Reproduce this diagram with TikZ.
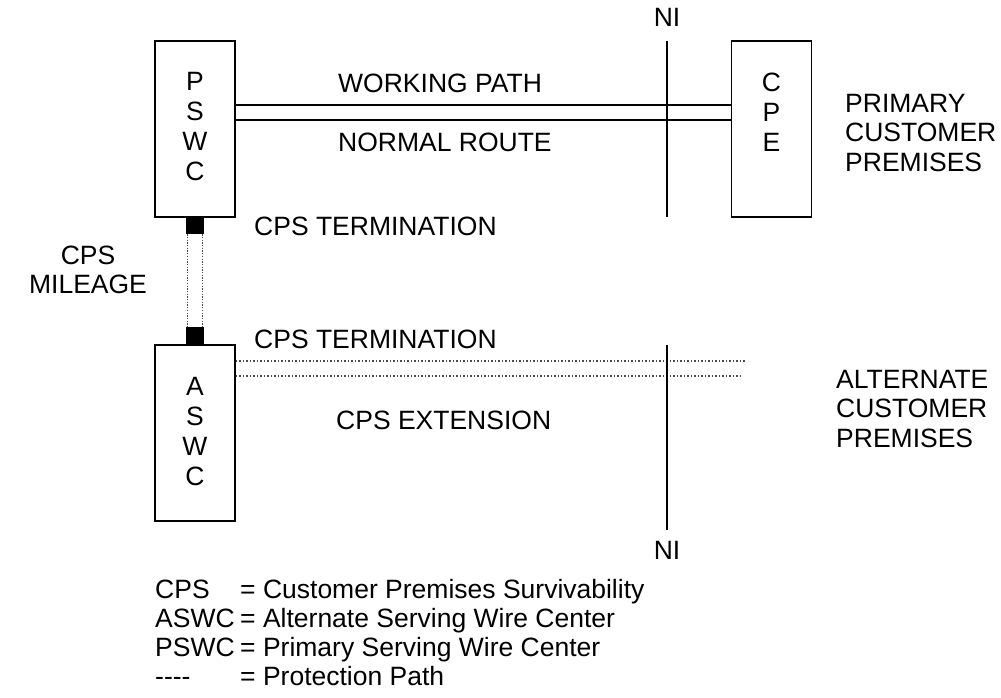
\documentclass[tikz,border=0pt]{standalone}
\usepackage{fontspec}
\setmainfont{Liberation Sans}
\begin{document}
\begin{tikzpicture}[x=1pt,y=-1pt,
  boxst/.style={draw, line width=1.9pt, minimum width=80pt, minimum height=176pt, inner sep=0pt},
  txt/.style={font=\fontsize{26.5}{29.5}\selectfont, inner sep=0pt},
  mtxt/.style={txt, align=left},
  ctxt/.style={txt, align=center},
  solidln/.style={line width=1.6pt},
  dotln/.style={line width=1.5pt, draw=black!70, dash pattern=on 1.5pt off 2pt},
  vdotln/.style={line width=1.3pt, draw=black!70, dash pattern=on 1.3pt off 1.4pt},
  termsq/.style={fill=black, draw=none, minimum width=18pt, minimum height=17pt, inner sep=0pt},
  niln/.style={line width=1.8pt}]
\useasboundingbox (0,0) rectangle (1001,698);

% boxes
\node[boxst] (pswc) at (195,129) {};
\node[boxst] (cpe) at (771.5,129) {};
\node[boxst] (aswc) at (195,433) {};
\node[txt] (p1) at (195,81) {P};
\node[txt] (p2) at (195,111) {S};
\node[txt] (p3) at (195,141) {W};
\node[txt] (p4) at (195,171) {C};
\node[txt] (c1) at (771.5,82) {C};
\node[txt] (c2) at (771.5,112) {P};
\node[txt] (c3) at (771.5,142) {E};
\node[txt] (a1) at (195,386) {A};
\node[txt] (a2) at (195,416) {S};
\node[txt] (a3) at (195,446) {W};
\node[txt] (a4) at (195,476) {C};

% termination squares
\node[termsq] (t1) at (195,225.5) {};
\node[termsq] (t2) at (195,335.5) {};

% CPS mileage dotted pair
\draw[vdotln] ([xshift=-7.5pt]t1.south) -- ([xshift=-7.5pt]t2.north);
\draw[vdotln] ([xshift=7.5pt]t1.south) -- ([xshift=7.5pt]t2.north);

% working path
\coordinate (wa1) at (pswc.east |- 0,105);
\coordinate (wa2) at (pswc.east |- 0,120);
\draw[solidln] (wa1) -- (wa1 -| cpe.west);
\draw[solidln] (wa2) -- (wa2 -| cpe.west);

% CPS extension dotted
\coordinate (da1) at (aswc.east |- 0,361);
\coordinate (da2) at (aswc.east |- 0,376);
\coordinate (de1) at (745,361);
\coordinate (de2) at (740,376);
\draw[dotln] (da1) -- (de1);
\draw[dotln] (da2) -- (de2);

% NI lines
\coordinate (ni1a) at (667,41);
\coordinate (ni1b) at (667,217);
\coordinate (ni2a) at (667,345);
\coordinate (ni2b) at (667,530);
\draw[niln] (ni1a) -- (ni1b);
\draw[niln] (ni2a) -- (ni2b);
\node[txt] (nitop) at (667,17) {NI};
\node[txt] (nibot) at (667,550) {NI};

% labels
\node[txt, anchor=west] (wp) at (338,83) {WORKING PATH};
\node[txt, anchor=west] (nr) at (338,142) {NORMAL ROUTE};
\node[txt, anchor=west] (ct1) at (254,226) {CPS TERMINATION};
\node[txt, anchor=west] (ct2) at (254,339) {CPS TERMINATION};
\node[txt, anchor=west] (cx) at (336,420) {CPS EXTENSION};
\node[ctxt] (mil) at (88,270) {CPS\\MILEAGE};
\node[mtxt, anchor=west] (pcp) at (845,133) {PRIMARY\\CUSTOMER\\PREMISES};
\node[mtxt, anchor=west] (acp) at (836,409) {ALTERNATE\\CUSTOMER\\PREMISES};

% legend
\node[txt, anchor=base west] (lg1a) at (155,598) {CPS};
\node[txt, anchor=base west] (lg2a) at (155,627) {ASWC};
\node[txt, anchor=base west] (lg3a) at (155,656) {PSWC};
\node[txt, anchor=base west] (lg4a) at (155,685) {\mbox{-}\mbox{-}\mbox{-}\mbox{-}};
\node[txt, anchor=base west] (lg1b) at (240,598) {= Customer Premises Survivability};
\node[txt, anchor=base west] (lg2b) at (240,627) {= Alternate Serving Wire Center};
\node[txt, anchor=base west] (lg3b) at (240,656) {= Primary Serving Wire Center};
\node[txt, anchor=base west] (lg4b) at (240,685) {= Protection Path};
\end{tikzpicture}
\end{document}
